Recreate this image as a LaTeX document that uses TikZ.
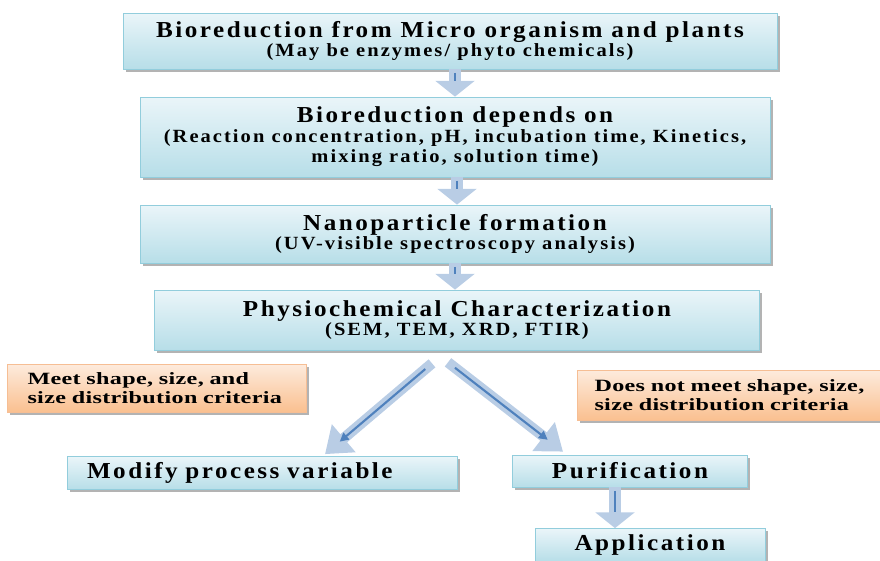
\documentclass[tikz,border=0pt]{standalone}
\usepackage{fontspec}
\setmainfont{Liberation Serif}
\newfontfamily\boxfont{Liberation Serif}[FakeStretch=1.1,LetterSpace=11]
\newfontfamily\critfont{Liberation Serif}[FakeStretch=1.4,LetterSpace=2]
\usetikzlibrary{arrows.meta,positioning,shadows,calc}
\definecolor{boxtop}{HTML}{EAF5F9}
\definecolor{boxbot}{HTML}{B7DEE8}
\definecolor{boxline}{HTML}{92CDDC}
\definecolor{crittop}{HTML}{FDEBDD}
\definecolor{critbot}{HTML}{FAC090}
\definecolor{critline}{HTML}{F6BE94}
\definecolor{arrfill}{HTML}{B9CDE5}
\definecolor{arrcore}{HTML}{4F81BD}
\newcommand{\subline}{\fontsize{10.6}{11.4}\selectfont}

\begin{document}
\begin{tikzpicture}[x=0.02cm, y=-0.02cm,
  every node/.style={font=\boxfont\bfseries\fontsize{13}{11.4}\selectfont},
  box/.style={draw=boxline, top color=boxtop, bottom color=boxbot,
    inner sep=0pt, align=center,
    drop shadow={shadow xshift=1.5pt, shadow yshift=-1.5pt, fill=black!50, opacity=0.6}},
  crit/.style={draw=critline, top color=crittop, bottom color=critbot,
    inner ysep=0pt, inner xsep=0.4cm, align=left,
    font=\critfont\bfseries\fontsize{9.8}{11}\selectfont,
    drop shadow={shadow xshift=1.5pt, shadow yshift=-1.5pt, fill=black!50, opacity=0.6}},
  fat/.style={arrfill, line width=6.3pt, -{Triangle[width=22pt, length=9pt]}},
  diag/.style={line width=6pt, -{Triangle[width=20pt, length=14pt]}},
  core/.style={arrcore, line width=1.2pt, shorten >=9pt, shorten <=2pt},
  dcore/.style={arrcore, line width=1.2pt, shorten >=11pt, shorten <=5pt, -{Triangle[width=5pt, length=5pt]}}
]
\useasboundingbox (0,0) rectangle (880,561);

% process steps
\node[box, minimum width=13.08cm, minimum height=1.12cm] (src) at (450,41)
  {Bioreduction from Micro organism and plants\\[-1pt]
   {\subline (May be enzymes/ phyto chemicals)}};
\node[box, minimum width=12.6cm, minimum height=1.6cm] (dep) at (455,137)
  {Bioreduction depends on\\
   {\subline (Reaction concentration, pH, incubation time, Kinetics,}\\
   {\subline mixing ratio, solution time)}};
\node[box, minimum width=12.6cm, minimum height=1.16cm] (form) at (455,234)
  {Nanoparticle formation\\[-1pt]
   {\subline (UV-visible spectroscopy analysis)}};
\node[box, minimum width=12.1cm, minimum height=1.2cm] (charac) at (457,320)
  {Physiochemical Characterization\\[-1pt]
   {\subline (SEM, TEM, XRD, FTIR)}};

% criteria
\node[crit, text width=5.18cm, minimum height=0.96cm] (meet) at (157,388)
  {Meet shape, size, and\\size distribution criteria};
\node[crit, text width=5.4cm, inner xsep=0.35cm, minimum height=1.0cm] (notmeet) at (729.5,395)
  {Does not meet shape, size,\\size distribution criteria};

% outcomes
\node[box, text width=7.0cm, inner xsep=0.4cm, align=left, minimum height=0.66cm] (modify) at (262,473)
  {Modify process variable};
\node[box, minimum width=4.7cm, minimum height=0.64cm] (purif) at (630,471) {Purification};
\node[box, minimum width=4.6cm, minimum height=0.66cm] (appl) at (650,545) {Application};

% block arrows
\draw[fat] (src.south -| dep.north) -- (dep.north);
\draw[core] (src.south -| dep.north) -- (dep.north);
\draw[fat] ($(dep.south)+(2,0)$) -- ($(form.north)+(2,0)$);
\draw[core] ($(dep.south)+(2,0)$) -- ($(form.north)+(2,0)$);
\draw[fat] (form.south) -- (form.south |- charac.north);
\draw[core] (form.south) -- (form.south |- charac.north);
\draw[fat, diag] ($(charac.south)+(-25,13)$) -- ($(modify.north)+(63,-2)$);
\draw[dcore] ($(charac.south)+(-25,13)$) -- ($(modify.north)+(63,-2)$);
\draw[fat, diag] ($(charac.south)+(-9,12)$) -- ($(purif.north)+(-67,-3)$);
\draw[dcore] ($(charac.south)+(-9,12)$) -- ($(purif.north)+(-67,-3)$);
\draw[fat] ($(purif.south)+(-15,0)$) -- ($(appl.north)+(-35,0)$);
\draw[core] ($(purif.south)+(-15,0)$) -- ($(appl.north)+(-35,0)$);
\end{tikzpicture}
\end{document}
